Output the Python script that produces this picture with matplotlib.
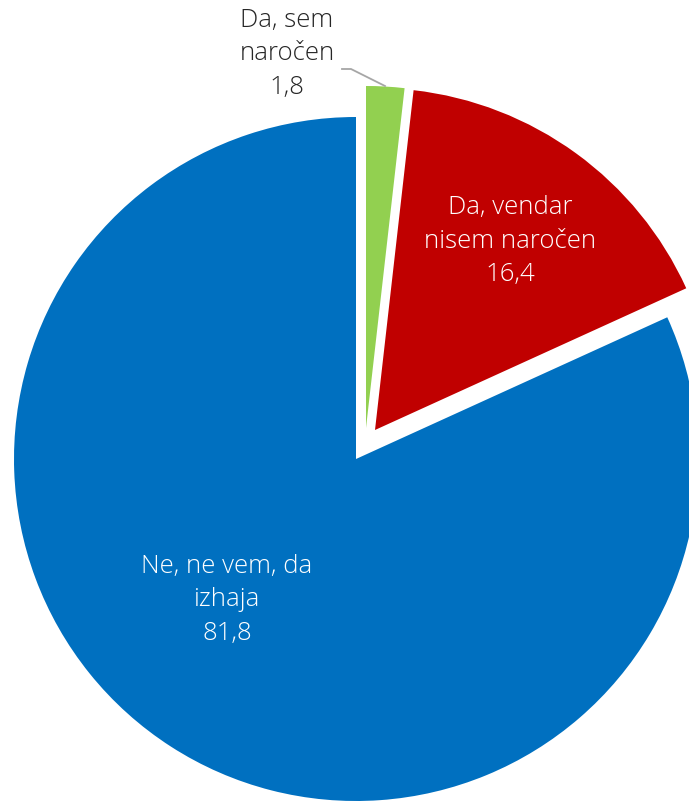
import matplotlib

matplotlib.use("Agg")

import matplotlib.pyplot as plt

# ---------------------------------------------------------------- data

labels = ["Da, sem\nnaročen", "Da, vendar\nnisem naročen", "Ne, ne vem, da\nizhaja"]
values = [1.8, 16.4, 81.8]
value_text = ["1,8", "16,4", "81,8"]
colors = ["#92d050", "#c00000", "#0070c0"]

# ---------------------------------------------------------------- layout

W, H = 689, 801
CX, CY, R = 356, 459, 342  # pie centre / radius in pixels


def px(x, y):
    """pixel (from top-left) -> data coords where radius == 1."""
    return (x - CX) / R, (CY - y) / R


fig = plt.figure(figsize=(W / 100, H / 100), dpi=100)
ax = fig.add_axes([0, 0, 1, 1])

wedges, _ = ax.pie(
    values, colors=colors, startangle=90, counterclock=False,
    radius=1.0, wedgeprops=dict(linewidth=0),
)
wedges[0].set_center(px(366, 428))
wedges[1].set_center(px(375, 430))

ax.set_xlim(-CX / R, (W - CX) / R)
ax.set_ylim(-(H - CY) / R, CY / R)
ax.set_aspect("auto")
ax.axis("off")

font = dict(family=["Open Sans", "DejaVu Sans"], fontweight="light",
            fontsize=18.5, ha="center", va="center", linespacing=1.45)

ax.text(*px(287, 54), f"{labels[0]}\n{value_text[0]}", color="#262626", **font)
ax.text(*px(510, 241), f"{labels[1]}\n{value_text[1]}", color="white", **font)
ax.text(*px(227, 600), f"{labels[2]}\n{value_text[2]}", color="white", **font)

# leader line for the small slice
lx, ly = zip(px(342, 69), px(351, 69), px(385, 86))
ax.plot(lx, ly, color="#a6a6a6", linewidth=1.3)

fig.savefig("out.png", dpi=100)
